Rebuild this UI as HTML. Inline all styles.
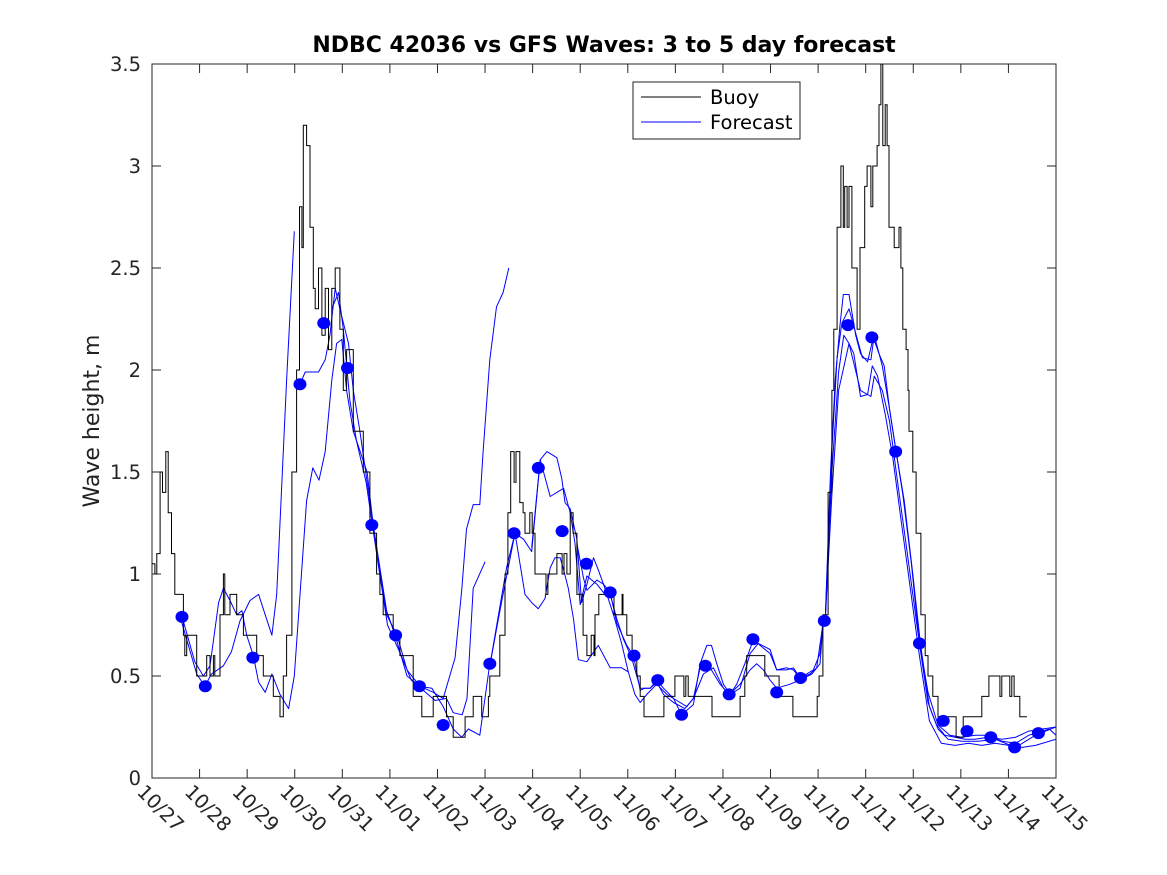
<!DOCTYPE html>
<html><head><meta charset="utf-8"><style>
html,body{margin:0;padding:0;background:#fff;}
svg{display:block;font-family:"DejaVu Sans","Liberation Sans",sans-serif;}
</style></head><body>
<svg id="chart" width="1167" height="875" viewBox="0 0 1167 875" xmlns="http://www.w3.org/2000/svg">
<rect width="1167" height="875" fill="#fff"/>
<defs><clipPath id="plotclip"><rect x="152" y="64" width="904" height="714"/></clipPath></defs>
<text x="604" y="52" text-anchor="middle" font-size="22" font-weight="bold" fill="#000">NDBC 42036 vs GFS Waves: 3 to 5 day forecast</text>
<text transform="translate(99,421) rotate(-90)" text-anchor="middle" font-size="22" fill="#222">Wave height, m</text>
<g id="axes"></g>
<g id="series" clip-path="url(#plotclip)"></g>
<g id="legend">
<rect x="633" y="82" width="167" height="57" fill="#fff" stroke="#222" stroke-width="1"/>
<line x1="641" y1="97" x2="701" y2="97" stroke="#000" stroke-width="1"/>
<text x="710" y="104" font-size="19.5" fill="#000">Buoy</text>
<line x1="641" y1="122" x2="701" y2="122" stroke="#0000ff" stroke-width="1"/>
<text x="710" y="129" font-size="19.5" fill="#000">Forecast</text>
</g>
</svg>
<script>
// ---- data (days since 10/27 00:00, wave height m) ----
const xTickLabels = ["10/27","10/28","10/29","10/30","10/31","11/01","11/02","11/03","11/04","11/05","11/06","11/07","11/08","11/09","11/10","11/11","11/12","11/13","11/14","11/15"];
const yTickValues = [0,0.5,1,1.5,2,2.5,3,3.5];
const yTickLabels = ["0","0.5","1","1.5","2","2.5","3","3.5"];

const buoyDays = [0,0.06,0.1,0.17,0.22,0.29,0.34,0.41,0.48,0.59,0.66,0.69,0.73,0.87,0.94,1.11,1.15,1.22,1.29,1.32,1.43,1.5,1.53,1.64,1.78,1.92,2.13,2.2,2.34,2.52,2.55,2.65,2.69,2.76,2.83,2.94,3.04,3.1,3.15,3.18,3.25,3.32,3.39,3.43,3.5,3.57,3.64,3.71,3.78,3.85,3.92,3.95,4.02,4.09,4.23,4.37,4.44,4.58,4.72,4.79,4.86,5.0,5.07,5.21,5.49,5.67,5.88,5.91,6.12,6.19,6.3,6.33,6.54,6.58,6.72,6.75,6.89,6.93,7.03,7.07,7.1,7.17,7.31,7.42,7.48,7.54,7.61,7.65,7.73,7.8,7.84,7.94,7.99,8.05,8.26,8.28,8.32,8.51,8.62,8.66,8.72,8.79,8.85,8.93,9.06,9.14,9.23,9.29,9.31,9.39,9.67,9.71,9.88,9.9,9.98,10.09,10.19,10.26,10.34,10.74,10.76,10.95,10.99,11.16,11.18,11.22,11.27,11.73,11.77,12.32,12.36,12.46,12.5,12.84,12.88,13.16,13.18,13.43,13.47,13.93,13.98,14.02,14.1,14.21,14.29,14.33,14.4,14.44,14.48,14.53,14.56,14.61,14.65,14.71,14.77,14.82,14.88,14.94,14.98,15.03,15.11,15.15,15.24,15.28,15.32,15.36,15.41,15.45,15.49,15.55,15.6,15.66,15.7,15.74,15.78,15.85,15.89,15.91,15.99,16.06,16.16,16.25,16.31,16.41,16.52,16.88,16.9,17.02,17.05,17.36,17.44,17.59,17.8,17.82,17.86,18.01,18.03,18.07,18.12,18.22,18.24,18.39];
const buoyValues = [1.05,1.0,1.1,1.5,1.4,1.6,1.3,1.1,0.9,0.9,0.7,0.6,0.7,0.7,0.5,0.5,0.6,0.5,0.6,0.5,0.8,1.0,0.8,0.9,0.8,0.7,0.7,0.6,0.5,0.5,0.4,0.4,0.3,0.5,0.7,1.5,2.0,2.8,2.6,3.2,3.1,2.7,2.4,2.3,2.5,2.17,2.4,2.1,2.4,2.5,2.5,2.2,1.9,2.1,1.7,1.7,1.5,1.2,1.0,0.9,0.8,0.8,0.7,0.6,0.4,0.3,0.3,0.4,0.4,0.3,0.3,0.2,0.2,0.3,0.3,0.4,0.4,0.3,0.3,0.4,0.5,0.5,0.7,1.0,1.3,1.6,1.45,1.6,1.35,1.3,1.2,1.3,1.2,1.0,1.0,0.9,1.0,1.1,1.0,1.1,1.0,1.3,1.2,0.9,0.7,0.6,0.7,0.6,0.8,0.9,0.9,0.8,0.9,0.8,0.7,0.6,0.5,0.4,0.3,0.3,0.4,0.4,0.5,0.5,0.4,0.5,0.4,0.4,0.3,0.3,0.4,0.5,0.6,0.6,0.5,0.5,0.4,0.4,0.3,0.3,0.4,0.5,0.8,1.4,1.9,2.2,2.7,2.7,3.0,2.7,2.9,2.7,2.9,2.5,2.5,2.2,2.6,2.6,2.9,3.0,2.8,3.0,3.1,3.3,3.5,3.1,3.3,3.1,2.7,2.7,2.6,2.6,2.7,2.5,2.2,2.1,1.9,1.7,1.5,1.2,0.8,0.6,0.5,0.4,0.3,0.3,0.2,0.2,0.3,0.3,0.4,0.5,0.5,0.4,0.5,0.5,0.4,0.5,0.4,0.4,0.3,0.3];

const fcA_days = [0.59,0.94,1.11,1.25,1.5,1.67,1.85,2.06,2.24,2.38,2.52,2.62,2.83,2.99];
const fcA_vals = [0.79,0.51,0.45,0.51,0.55,0.62,0.77,0.87,0.9,0.8,0.7,0.9,1.95,2.68];
const fcB_days = [0.62,0.9,1.08,1.22,1.4,1.5,1.64,1.78,1.89,1.99,2.13,2.24,2.38,2.52,2.69,2.87,2.99,3.25,3.38,3.51,3.64,3.78,3.88,3.99,4.09,4.23,4.52,4.65,4.93,5.15,5.36,5.63,5.91,6.12,6.37,6.51,6.61,6.75,6.89,6.96,7.1,7.24,7.38,7.5];
const fcB_vals = [0.8,0.57,0.5,0.55,0.86,0.93,0.87,0.8,0.82,0.7,0.6,0.47,0.42,0.51,0.41,0.34,0.5,1.36,1.52,1.46,1.6,1.95,2.13,2.15,1.9,1.7,1.5,1.24,0.8,0.7,0.53,0.45,0.42,0.39,0.59,0.92,1.22,1.34,1.34,1.6,2.05,2.31,2.38,2.5];
const fcC_days = [3.11,3.22,3.5,3.64,3.74,3.85,3.95,4.13,4.23,4.37,4.65,4.93,5.11,5.36,5.63,5.88,6.12,6.33,6.51,6.65,6.89,7.1];
const fcC_vals = [1.93,1.99,1.99,2.05,2.17,2.4,2.3,2.13,1.9,1.7,1.24,0.82,0.7,0.5,0.45,0.44,0.35,0.24,0.2,0.24,0.21,0.56];
const fcE_days = [3.78,3.92,4.02,4.16,4.3,4.5,4.72,4.95,5.2,5.45,5.7,5.95,6.19,6.33,6.52,6.62,6.75,7.0];
const fcE_vals = [2.3,2.38,2.2,1.85,1.65,1.45,1.1,0.75,0.62,0.48,0.43,0.38,0.39,0.32,0.31,0.39,0.93,1.06];
const fcP1_days = [7.1,7.28,7.42,7.63,7.81,7.98,8.16,8.3,8.51,8.61,8.68,8.79,8.93,9.03,9.14,9.28,9.38,9.49,9.63,9.77,9.98,10.12,10.26,10.36,10.47,10.61,10.75,10.96,11.13,11.38,11.52,11.66,11.76,11.87,12.01,12.15,12.29,12.46,12.64,12.78,12.99,13.13,13.34,13.48,13.62,13.83,13.97,14.11];
const fcP1_vals = [0.55,0.78,0.95,1.2,1.17,1.11,1.56,1.6,1.57,1.47,1.35,1.32,1.17,0.86,0.95,1.08,1.02,0.95,0.91,0.76,0.65,0.6,0.43,0.44,0.44,0.48,0.44,0.39,0.31,0.36,0.56,0.65,0.65,0.56,0.46,0.41,0.46,0.56,0.68,0.65,0.61,0.53,0.53,0.54,0.49,0.51,0.54,0.77];
const fcP2_days = [7.1,7.45,7.63,7.84,7.98,8.12,8.26,8.37,8.47,8.58,8.65,8.75,8.86,8.96,9.14,9.38,9.63,9.87,10.01,10.15,10.26,10.4,10.61,10.82,11.03,11.24,11.38,11.52,11.73,11.94,12.13,12.36,12.57,12.71,12.85,12.99,13.13,13.41,13.62,13.87,14.04,14.11];
const fcP2_vals = [0.55,1.03,1.2,0.9,0.86,0.83,0.88,1.03,1.08,1.08,1.02,0.93,0.78,0.58,0.57,0.65,0.54,0.54,0.52,0.41,0.37,0.41,0.46,0.41,0.38,0.35,0.39,0.54,0.54,0.46,0.41,0.46,0.53,0.56,0.53,0.48,0.44,0.46,0.48,0.51,0.56,0.77];
const fcP3_days = [7.98,8.16,8.37,8.65,8.79,8.89,9.0,9.14,9.35,9.52,9.63,9.77,9.91,10.08,10.26,10.47,10.61,10.75,10.96,11.2,11.38,11.59,11.8,12.01,12.15,12.36,12.57,12.74,12.99,13.13,13.34,13.48,13.62,13.9,14.04,14.11];
const fcP3_vals = [1.13,1.56,1.38,1.42,1.3,1.15,0.85,0.99,0.95,0.9,0.9,0.78,0.68,0.59,0.44,0.44,0.47,0.41,0.37,0.34,0.39,0.51,0.54,0.44,0.41,0.44,0.61,0.66,0.63,0.53,0.54,0.53,0.49,0.53,0.61,0.77];
const fcP4_days = [8.93,9.07,9.14,9.35,9.49,9.7,9.87,10.01];
const fcP4_vals = [1.15,0.98,0.92,0.97,0.95,0.8,0.66,0.52];
const fcQ1_days = [14.15,14.26,14.36,14.46,14.53,14.65,14.79,14.89,15.04,15.16,15.28,15.39,15.5,15.64,15.78,15.96,16.13,16.31,16.49,16.66,16.88,17.09,17.3,17.58,17.87,18.15,18.43,18.72,19.0];
const fcQ1_vals = [0.77,1.5,1.95,2.22,2.37,2.37,2.17,2.08,2.04,2.16,2.08,2.02,1.81,1.6,1.39,1.05,0.66,0.37,0.26,0.21,0.2,0.19,0.19,0.2,0.19,0.2,0.23,0.24,0.25];
const fcQ2_days = [14.15,14.29,14.4,14.5,14.65,14.79,14.93,15.11,15.18,15.35,15.5,15.64,15.81,15.99,16.15,16.34,16.52,16.73,17.02,17.37,17.72,18.15,18.57,19.0];
const fcQ2_vals = [0.77,1.61,2.06,2.23,2.3,2.18,2.06,2.05,2.17,2.02,1.81,1.6,1.36,1.0,0.66,0.35,0.24,0.19,0.18,0.18,0.19,0.15,0.21,0.25];
const fcQ3_days = [14.15,14.29,14.43,14.54,14.65,14.75,14.89,15.04,15.14,15.25,15.42,15.57,15.74,15.96,16.13,16.34,16.59,16.88,17.16,17.44,17.72,18.01,18.29,18.57,19.0];
const fcQ3_vals = [0.77,1.5,1.99,2.17,2.13,2.08,1.87,1.88,2.02,1.97,1.77,1.57,1.27,0.89,0.6,0.28,0.17,0.16,0.17,0.16,0.17,0.16,0.15,0.16,0.19];
const fcQ4_days = [14.15,14.29,14.43,14.65,14.89,15.11,15.18,15.35,15.5,15.67,15.88,16.1,16.31,16.52,16.77,17.02,17.3,17.58,17.87,18.15,18.43,18.86,19.0];
const fcQ4_vals = [0.77,1.39,1.9,2.13,1.9,1.87,1.97,1.9,1.75,1.45,1.09,0.71,0.42,0.26,0.21,0.2,0.21,0.21,0.18,0.17,0.21,0.24,0.21];

const dotDays = [0.63,1.12,2.12,3.11,3.61,4.11,4.62,5.12,5.62,6.12,7.1,7.61,8.12,8.62,9.13,9.63,10.13,10.63,11.13,11.63,12.13,12.63,13.13,13.63,14.13,14.63,15.13,15.63,16.13,16.63,17.13,17.63,18.13,18.63];
const dotValues = [0.79,0.45,0.59,1.93,2.23,2.01,1.24,0.7,0.45,0.26,0.56,1.2,1.52,1.21,1.05,0.91,0.6,0.48,0.31,0.55,0.41,0.68,0.42,0.49,0.77,2.22,2.16,1.6,0.66,0.28,0.23,0.2,0.15,0.22];

// ---- axis functions ----
const X0=152, X1=1056, Y0=778, Y1=64, DAYS=19, YMAX=3.5;
function xs(d){return X0+(X1-X0)*d/DAYS;}
function ys(v){return Y0-(Y0-Y1)*v/YMAX;}
const NS="http://www.w3.org/2000/svg";
function mk(tag,attrs,parent){const e=document.createElementNS(NS,tag);for(const k in attrs)e.setAttribute(k,attrs[k]);parent.appendChild(e);return e;}

const axes=document.getElementById('axes');
const frame=mk('rect',{x:X0,y:Y1,width:X1-X0,height:Y0-Y1,fill:'none',stroke:'#262626','stroke-width':1},axes);


xTickLabels.forEach((lab,i)=>{
  const x=xs(i);
  const t1=mk('line',{x1:x,y1:Y0,x2:x,y2:Y0-9,stroke:'#262626','stroke-width':1},axes);
  
  
  const t2=mk('line',{x1:x,y1:Y1,x2:x,y2:Y1+9,stroke:'#262626','stroke-width':1},axes);
  
  
  const tx=mk('text',{x:0,y:0,'font-size':19.5,fill:'#262626',transform:`translate(${x-16},${Y0+15}) rotate(45)`},axes);
  tx.textContent=lab;
  
  
});
yTickValues.forEach((v,i)=>{
  const y=ys(v);
  const t1=mk('line',{x1:X0,y1:y,x2:X0+9,y2:y,stroke:'#262626','stroke-width':1},axes);
  
  
  const t2=mk('line',{x1:X1,y1:y,x2:X1-9,y2:y,stroke:'#262626','stroke-width':1},axes);
  
  
  const tx=mk('text',{x:X0-11,y:y+7,'text-anchor':'end','font-size':19.5,fill:'#262626'},axes);
  tx.textContent=yTickLabels[i];
  
  
});

const series=document.getElementById('series');
function line(days,vals,color,name){
  const pts=days.map((d,i)=>xs(d).toFixed(1)+','+ys(vals[i]).toFixed(1)).join(' ');
  const p=mk('polyline',{points:pts,fill:'none',stroke:color,'stroke-width':1,'stroke-linejoin':'round'},series);
  
  
}
function stepLine(days,vals,color,name){
  const pts=[];
  days.forEach((d,i)=>{
    if(i>0) pts.push(xs(d).toFixed(1)+','+ys(vals[i-1]).toFixed(1));
    pts.push(xs(d).toFixed(1)+','+ys(vals[i]).toFixed(1));
  });
  const p=mk('polyline',{points:pts.join(' '),fill:'none',stroke:color,'stroke-width':1},series);
  
  
}
const fcSets=[[fcA_days,fcA_vals],[fcB_days,fcB_vals],[fcC_days,fcC_vals],[fcE_days,fcE_vals],[fcP1_days,fcP1_vals],[fcP2_days,fcP2_vals],[fcP3_days,fcP3_vals],[fcP4_days,fcP4_vals],[fcQ1_days,fcQ1_vals],[fcQ2_days,fcQ2_vals],[fcQ3_days,fcQ3_vals],[fcQ4_days,fcQ4_vals]];
fcSets.forEach(s=>line(s[0],s[1],'#0000ff','forecast-line'));
stepLine(buoyDays,buoyValues,'#000000','buoy-line');
dotDays.forEach((d,i)=>{
  const c=mk('ellipse',{cx:xs(d),cy:ys(dotValues[i]),rx:6.5,ry:6,fill:'#0000ff'},series);
  
  
});
</script>
</body></html>
